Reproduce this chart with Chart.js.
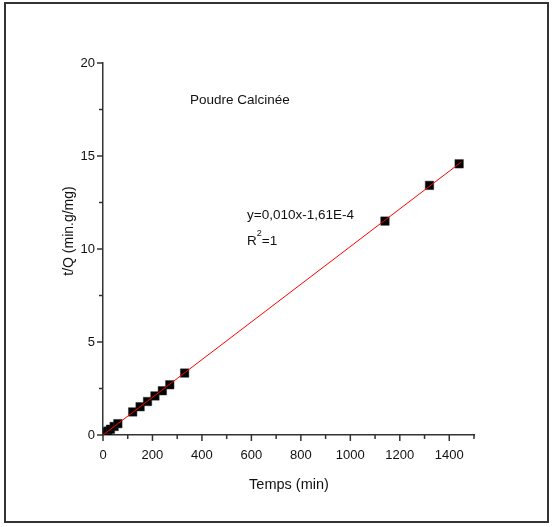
<!DOCTYPE html>
<html>
<head>
<meta charset="utf-8">
<script src="https://cdn.jsdelivr.net/npm/chart.js@4/dist/chart.umd.min.js"></script>
<style>
  html, body { margin:0; padding:0; background:#fff; }
  #wrap { width:554px; height:527px; }
</style>
</head>
<body>
<div id="wrap"><canvas id="c" width="554" height="527"></canvas></div>
<script>
/* Cinétique : t/Q en fonction du temps (poudre calcinée) */
const temps = [5, 10, 15, 20, 30, 45, 60, 120, 150, 180, 210, 240, 270, 330, 1140, 1320, 1440];
const tSurQ = [0.06, 0.11, 0.16, 0.21, 0.31, 0.46, 0.61, 1.24, 1.52, 1.80, 2.10, 2.38, 2.70, 3.33, 11.50, 13.42, 14.58];
// droite d'ajustement (extrémités)
const fitX = [0, 1450];
const fitY = [0, 14.69];
const xTicksLabelled = [0, 200, 400, 600, 800, 1000, 1200, 1400];
const yTicksLabelled = [0, 5, 10, 15, 20];

const FONT = "'Liberation Sans', Arial, sans-serif";

const points = temps.map((t, i) => ({x: t, y: tSurQ[i]}));
const fitLine = fitX.map((x, i) => ({x, y: fitY[i]}));

// cadre, ticks majeurs/mineurs et textes
const decor = {
  id: "decor",
  beforeDraw(chart){
    const ctx = chart.ctx;
    ctx.save();
    ctx.fillStyle = "#fff";
    ctx.fillRect(0, 0, chart.width, chart.height);
    ctx.strokeStyle = "#333";
    ctx.lineWidth = 2;
    ctx.strokeRect(5, 3, 543, 519);
    ctx.restore();
  },
  afterDraw(chart){
    const ctx = chart.ctx;
    const xs = chart.scales.x, ys = chart.scales.y;
    const a = chart.chartArea;
    ctx.save();
    ctx.strokeStyle = "#333";
    ctx.lineWidth = 1.5;
    for (let v = 0; v <= 1500; v += 100) {
      const px = xs.getPixelForValue(v);
      const len = xTicksLabelled.includes(v) ? 6 : 4;
      ctx.beginPath(); ctx.moveTo(px, a.bottom); ctx.lineTo(px, a.bottom + len); ctx.stroke();
    }
    for (let v = 0; v <= 20; v += 2.5) {
      const py = ys.getPixelForValue(v);
      const len = yTicksLabelled.includes(v) ? 6 : 4;
      ctx.beginPath(); ctx.moveTo(a.left, py); ctx.lineTo(a.left - len, py); ctx.stroke();
    }
    ctx.fillStyle = "#111";
    ctx.textBaseline = "middle";
    ctx.textAlign = "center";
    ctx.font = "14.5px " + FONT;
    ctx.fillText("Temps (min)", 289, 485);
    ctx.save();
    ctx.translate(69, 231);
    ctx.rotate(-Math.PI / 2);
    ctx.font = "14px " + FONT;
    ctx.fillText("t/Q (min.g/mg)", 0, 0);
    ctx.restore();
    ctx.textAlign = "left";
    ctx.font = "13.5px " + FONT;
    ctx.fillText("Poudre Calcinée", 190, 100);
    ctx.fillText("y=0,010x-1,61E-4", 247, 215);
    ctx.fillText("R", 247, 241);
    const rw = ctx.measureText("R").width;
    ctx.font = "9px " + FONT;
    ctx.fillText("2", 247 + rw, 234);
    const w2 = ctx.measureText("2").width;
    ctx.font = "13.5px " + FONT;
    ctx.fillText("=1", 247 + rw + w2, 241);
    ctx.restore();
  }
};

new Chart(document.getElementById("c").getContext("2d"), {
  type: "scatter",
  data: {
    datasets: [
      {
        label: "fit",
        type: "line",
        data: fitLine,
        borderColor: "#ff0000",
        borderWidth: 1,
        pointRadius: 0,
        fill: false,
        order: 0
      },
      {
        label: "t/Q",
        data: points,
        pointStyle: "rect",
        pointRadius: 6,
        backgroundColor: "#000",
        borderColor: "#333",
        borderWidth: 0.5,
        order: 1
      }
    ]
  },
  options: {
    responsive: false,
    animation: false,
    layout: { padding: { top: 63, right: 80, left: 0, bottom: 0 } },
    plugins: { legend: { display: false }, tooltip: { enabled: false } },
    scales: {
      x: {
        type: "linear",
        min: 0, max: 1500,
        afterFit: (s) => { s.height = 92; },
        grid: { display: false, drawTicks: false },
        border: { display: true, color: "#333", width: 1.5 },
        ticks: {
          stepSize: 100,
          padding: 13,
          maxRotation: 0,
          autoSkip: false,
          color: "#111",
          font: { family: FONT, size: 13 },
          callback: (v) => xTicksLabelled.includes(v) ? String(v) : ""
        }
      },
      y: {
        type: "linear",
        min: 0, max: 20,
        afterFit: (s) => { s.width = 103; },
        grid: { display: false, drawTicks: false },
        border: { display: true, color: "#333", width: 1.5 },
        ticks: {
          stepSize: 2.5,
          padding: 8,
          autoSkip: false,
          color: "#111",
          font: { family: FONT, size: 13 },
          callback: (v) => yTicksLabelled.includes(v) ? String(v) : ""
        }
      }
    }
  },
  plugins: [decor]
});
</script>
</body>
</html>
